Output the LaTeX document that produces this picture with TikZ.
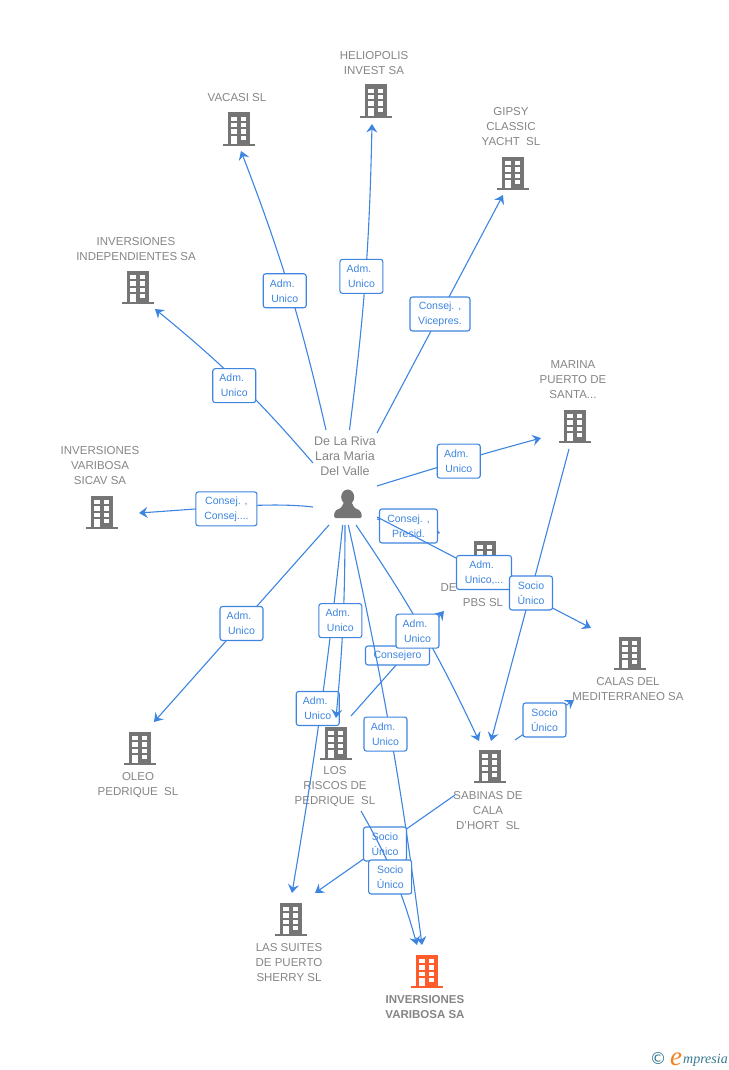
\documentclass[tikz,border=0pt]{standalone}
\usepackage{fontspec}
\setmainfont{Liberation Sans}
\newfontfamily\logofont{Liberation Serif}
\newfontfamily\markfont{DejaVu Sans}
\usetikzlibrary{arrows.meta}
\definecolor{linkblue}{HTML}{3D85E0}
\definecolor{iconblack}{HTML}{757575}
\definecolor{iconred}{HTML}{FF5B2B}
\definecolor{namegrey}{HTML}{858585}
\definecolor{logoteal}{HTML}{35788F}
\definecolor{logoorange}{HTML}{F08020}
\newcommand{\admunico}{Adm.\kern5pt\\Unico}
\tikzset{
  building/.pic={
    \fill[#1] (-11,-16.5) rectangle (11,15);
    \fill[#1] (-16,15) rectangle (16,17);
    \foreach \row in {-12.3,-5.9,0.5,6.9} {
      \fill[white] (1.9,\row) rectangle (7.3,\row+4.4);
    }
    \foreach \row in {-12.3,-5.9,0.5} {
      \fill[white] (-7.6,\row) rectangle (-2.2,\row+4.4);
    }
    \fill[white] (-7.6,6.9) rectangle (-2.2,15);
  },
  orgname/.style={text=namegrey,font=\fontsize{11.5}{15}\selectfont,align=center,inner sep=0pt},
  link/.style={draw=linkblue,line width=1.1pt,-{Stealth[length=8.5pt,width=11pt,inset=3pt]}},
  tag/.style={draw=linkblue,line width=1.1pt,fill=white,rounded corners=2.5pt,text=linkblue,
    font=\fontsize{10.5}{15}\selectfont,align=center,inner sep=0pt,minimum width=43pt,minimum height=34pt},
}
\begin{document}
\begin{tikzpicture}[x=1pt,y=-1pt]
  \useasboundingbox (0,0) rectangle (728,1070);
  \pic (heliopolis) at (376,101) {building=iconblack};
  \pic (vacasi) at (239,129) {building=iconblack};
  \pic (gipsy) at (513,173) {building=iconblack};
  \pic (independientes) at (138,287) {building=iconblack};
  \pic (marina) at (575,426) {building=iconblack};
  \pic (sicav) at (102,512) {building=iconblack};
  \pic (oleo) at (140,748) {building=iconblack};
  \pic (riscos) at (336,743) {building=iconblack};
  \pic (pbs) at (485,557) {building=iconblack};
  \pic (calas) at (630,653) {building=iconblack};
  \pic (sabinas) at (490,766) {building=iconblack};
  \pic (suites) at (291,919) {building=iconblack};
  \pic (varibosa) at (427,971) {building=iconred};
  % person
  \fill[iconblack] (347.7,497) ellipse (6.5 and 7.5);
  \fill[iconblack,rounded corners=2pt] (334,518) -- (334.5,511) -- (342.5,507) -- (343,502) -- (352.5,502) -- (353,507) -- (361,511) -- (362,518) -- cycle;
  \draw
    (374,63) node[orgname] (heliopolisname){HELIOPOLIS\\INVEST SA}
    (237,98) node[orgname] (vacasiname){VACASI SL}
    (511,127) node[orgname] (gipsyname){GIPSY\\CLASSIC\\YACHT\ \ SL}
    (136,249) node[orgname] (independientesname){INVERSIONES\\INDEPENDIENTES SA}
    (573,380) node[orgname] (marinaname){MARINA\\PUERTO DE\\SANTA...}
    (100,466) node[orgname] (sicavname){INVERSIONES\\VARIBOSA\\SICAV SA}
    (345,456) node[orgname,font=\fontsize{12.5}{15}\selectfont] (personname){De La Riva\\Lara Maria\\Del Valle}
    (138,785) node[orgname] (oleoname){OLEO\\PEDRIQUE\ \ SL}
    (335,787) node[orgname] (riscosname){LOS\\RISCOS DE\\PEDRIQUE\ \ SL}
    (483,595) node[orgname] (pbsname){DE\phantom{XXXXXXXXX}\\PBS SL}
    (628,689) node[orgname] (calasname){CALAS DEL\\MEDITERRANEO SA}
    (488,811) node[orgname] (sabinasname){SABINAS DE\\CALA\\D'HORT\ \ SL}
    (289,963) node[orgname] (suitesname){LAS SUITES\\DE PUERTO\\SHERRY SL}
    (425,1007) node[orgname,font=\fontsize{11.5}{15}\selectfont\bfseries] (varibosaname){INVERSIONES\\VARIBOSA SA};
  % free ends
  \coordinate (fromvacasi) at (326,430);
  \coordinate (tovacasi) at (241,151);
  \coordinate (fromheliopolis) at (349.5,430);
  \coordinate (toheliopolis) at (372,124);
  \coordinate (fromgipsy) at (377,433);
  \coordinate (togipsy) at (503,195);
  \coordinate (fromindependientes) at (313,463);
  \coordinate (toindependientes) at (155,309);
  \coordinate (fromsicav) at (313,507);
  \coordinate (tosicav) at (139,513);
  \coordinate (fromoleo) at (329,525);
  \coordinate (tooleo) at (154,722);
  \coordinate (fromriscos) at (345,525);
  \coordinate (toriscos) at (336,718);
  \coordinate (fromsuites) at (342.7,525);
  \coordinate (tosuites) at (292,893);
  \coordinate (fromvaribosa) at (348.3,525);
  \coordinate (tovaribosa) at (422,945);
  \coordinate (fromsabinas) at (356,525);
  \coordinate (tosabinas) at (479,741);
  \coordinate (frommarina) at (377,486);
  \coordinate (tomarina) at (541,438);
  \coordinate (frompbs) at (377,519);
  \coordinate (topbs) at (440,533);
  \coordinate (fromcalas) at (377,517);
  \coordinate (tocalas) at (591,628);
  \coordinate (marinaout) at (569,449);
  \coordinate (marinain) at (491,741);
  \coordinate (sabinasout) at (515,740);
  \coordinate (calasin) at (574,700);
  \coordinate (sabinasleft) at (455,795);
  \coordinate (suitesin) at (315,893);
  \coordinate (riscosout) at (361,811);
  \coordinate (varibosain) at (417,945);
  \coordinate (riscosright) at (351,716);
  \coordinate (pbsin) at (444,611);
  \begin{scope}
    \draw[link] (fromvacasi) to[bend right=4] node[tag,xshift=-4.5,yshift=-2] {\admunico} (tovacasi);
    \draw[link] (fromheliopolis) to[bend right=3] node[tag,xshift=-4,yshift=1] {\admunico} (toheliopolis);
    \draw[link] (fromgipsy) to node[tag,minimum width=60pt] {Consej. ,\\Vicepres.} (togipsy);
    \draw[link] (fromindependientes) to[bend right=5] node[tag,xshift=-3.7,yshift=-3.7] {\admunico} (toindependientes);
    \draw[link] (fromsicav) .. controls (270,502) and (220,507.5) .. node[tag,pos=.58,minimum width=61pt,yshift=-2] {Consej. ,\\Consej....} (tosicav);
    \draw[link] (fromoleo) to node[tag] {\admunico} (tooleo);
    \draw[link] (frommarina) to[bend left=1] node[tag] {\admunico} (tomarina);
    \draw[link] (frompbs) to node[tag,minimum width=58pt] {Consej. ,\\Presid.} (topbs);
    \draw[link] (fromcalas) to node[tag,minimum width=55pt] {Adm.\kern5pt\\Unico,...} (tocalas);
    \draw[link] (marinaout) to node[tag,xshift=1,yshift=2] {Socio\\Único} (marinain);
    \draw[link] (sabinasout) to node[tag] {Socio\\Único} (calasin);
    \draw[link] (fromsuites) to[bend left=1.8] node[tag,xshift=-3,yshift=1] {\admunico} (tosuites);
    \draw[link] (fromriscos) to[bend left=2.6] node[tag,xshift=-2.7,yshift=1] {\admunico} (toriscos);
    \draw[link] (riscosright) to node[tag,minimum width=64pt,minimum height=19pt,yshift=8] {Consejero} (pbsin);
    \draw[link] (fromsabinas) to[bend left=4.5] node[tag,xshift=-5,yshift=-1] {\admunico} (tosabinas);
    \draw[link] (fromvaribosa) to[bend left=2.5] node[tag,xshift=-5] {\admunico} (tovaribosa);
    \draw[link] (sabinasleft) to node[tag] {Socio\\Único} (suitesin);
    \draw[link] (riscosout) to[bend left=7] node[tag,xshift=-3.6,yshift=-1] {Socio\\Único} (varibosain);
  \end{scope}
  % logo
  \draw
    (658,1059) node[text=logoteal,font=\fontsize{16.5}{17}\selectfont\markfont] (logomark){©}
    (670,1065) node[anchor=base west,inner sep=0pt,text=logoorange,font=\fontsize{27}{27}\selectfont\logofont\itshape] (logoe){e}
    (683,1063) node[anchor=base west,inner sep=0pt,text=logoteal,font=\fontsize{14}{15}\selectfont\logofont\itshape] (logotext){mpresia};
\end{tikzpicture}
\end{document}
